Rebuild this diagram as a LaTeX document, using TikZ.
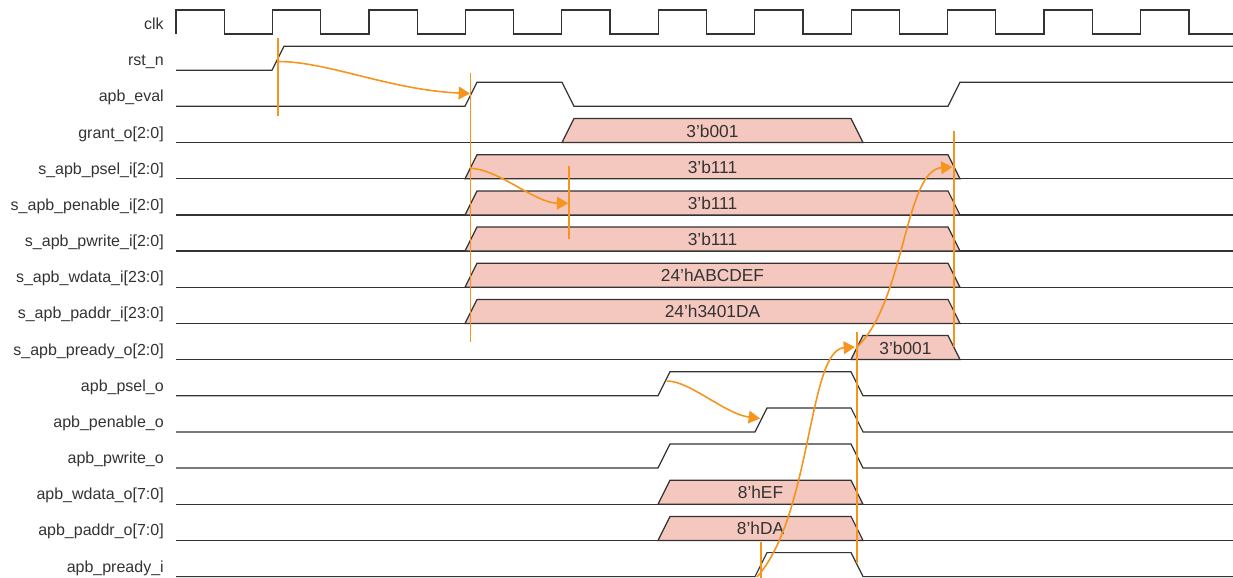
\documentclass[tikz,border=0pt]{standalone}
\usepackage{fontspec}
\setmainfont{Liberation Sans}
\usetikzlibrary{arrows.meta,calc}
\definecolor{wavecol}{RGB}{51,51,51}
\definecolor{buspink}{RGB}{244,199,191}
\definecolor{annor}{RGB}{247,148,30}
\tikzset{
  wave/.style={draw=wavecol, line width=0.9pt, line join=miter},
  busshape/.style={fill=buspink, draw=wavecol, line width=0.9pt},
  lbl/.style={anchor=base east, inner sep=0pt, font=\fontsize{12}{14}\selectfont, text=wavecol},
  val/.style={anchor=base, inner sep=0pt, font=\fontsize{13}{15}\selectfont, text=wavecol},
  ann/.style={draw=annor, line width=1.2pt},
  annbar/.style={fill=annor, draw=none},
  annarrow/.style={ann, -{Triangle[length=8.5pt,width=9.5pt]}},
}
\newcommand\rowlabel[3]{\node[lbl] (#1) at (164,{#2-4.5}) {#3};}
\newcommand\buswave[5]{%
  \draw[wave] (176,#1) -- (1233,#1);
  \filldraw[busshape] (#2,#1) -- ++(12,-24) -- (#3,{#1-24}) -- ++(12,24) -- cycle;
  \node[val] (#4) at ({(#2+12+#3)/2},{#1-5.5}) {#5};}
\newcommand\pulsewave[3]{%
  \draw[wave] (176,#1) -- (#2,#1) -- ++(12,-24) -- (#3,{#1-24}) -- ++(12,24) -- (1233,#1);}
\newcommand\markbar[2]{\fill[annbar] ($(#1)+(-0.8,0)$) rectangle ($(#2)+(0.8,0)$);}
\begin{document}
\begin{tikzpicture}[x=0.75pt,y=-0.75pt]
\useasboundingbox (0,0) rectangle (1233,578);
% labels
\rowlabel{Lclk}{34}{clk}
\rowlabel{Lrst}{70.2}{rst\_n}
\rowlabel{Leval}{106.3}{apb\_eval}
\rowlabel{Lgrant}{142.5}{grant\_o[2:0]}
\rowlabel{Lpsel}{178.7}{s\_apb\_psel\_i[2:0]}
\rowlabel{Lpen}{214.9}{s\_apb\_penable\_i[2:0]}
\rowlabel{Lpwr}{251}{s\_apb\_pwrite\_i[2:0]}
\rowlabel{Lwd}{287.2}{s\_apb\_wdata\_i[23:0]}
\rowlabel{Lpa}{323.4}{s\_apb\_paddr\_i[23:0]}
\rowlabel{Lrdy}{359.5}{s\_apb\_pready\_o[2:0]}
\rowlabel{Lopsel}{395.7}{apb\_psel\_o}
\rowlabel{Lopen}{431.9}{apb\_penable\_o}
\rowlabel{Lopwr}{468}{apb\_pwrite\_o}
\rowlabel{Lowd}{504.2}{apb\_wdata\_o[7:0]}
\rowlabel{Lopa}{540.4}{apb\_paddr\_o[7:0]}
\rowlabel{Lirdy}{576.6}{apb\_pready\_i}
% clock
\draw[wave] (176,34) -- (176,10)
  \foreach \k in {0,...,9} { -- ({224.2+96.45*\k},10) -- ({224.2+96.45*\k},34) -- ({272.45+96.45*\k},34) -- ({272.45+96.45*\k},10) }
  -- (1189,10) -- (1189,34) -- (1233,34);
% rst_n
\draw[wave] (176,70.2) -- (272,70.2) -- ++(12,-24) -- (1233,46.2);
% apb_eval
\draw[wave] (176,106.3) -- (465,106.3) -- ++(12,-24) -- (562,82.3) -- ++(12,24) -- (948,106.3) -- ++(12,-24) -- (1233,82.3);
% buses
\buswave{142.5}{562}{851}{Vgrant}{3’b001}
\buswave{178.7}{465}{948}{Vpsel}{3’b111}
\buswave{214.9}{465}{948}{Vpen}{3’b111}
\buswave{251}{465}{948}{Vpwr}{3’b111}
\buswave{287.2}{465}{948}{Vwd}{24’hABCDEF}
\buswave{323.4}{465}{948}{Vpa}{24’h3401DA}
\buswave{359.5}{851}{948}{Vrdy}{3’b001}
\pulsewave{395.7}{658}{851}
\pulsewave{431.9}{755}{851}
\pulsewave{468}{658}{851}
\buswave{504.2}{658}{851}{Vowd}{8’hEF}
\buswave{540.4}{658}{851}{Vopa}{8’hDA}
\pulsewave{576.6}{755}{851}
% annotation coordinates
\coordinate (rstA) at (277.7,38);
\coordinate (rstB) at (277.7,116);
\coordinate (rstE) at (278,61.5);
\coordinate (evalE) at (470,93.5);
\coordinate (evT) at (470.3,73);
\coordinate (evB) at (470.3,342);
\coordinate (pselE) at (471,168.3);
\coordinate (penE) at (568.3,203.3);
\coordinate (penT) at (569,166);
\coordinate (penB) at (569,239);
\coordinate (endT) at (953.9,131);
\coordinate (endB) at (953.9,347);
\coordinate (opselE) at (667,381);
\coordinate (openE) at (760,418.5);
\coordinate (rdyT) at (856.7,332);
\coordinate (rdyB) at (856.7,563);
\coordinate (irdyT) at (760.7,542);
\coordinate (irdyB) at (760.7,578);
\coordinate (irdyE) at (757,577);
\coordinate (ordyE) at (855,347);
\coordinate (ordyS) at (858,346);
\coordinate (pselF) at (952.5,167);
% annotations
\markbar{rstA}{rstB}
\markbar{evT}{evB}
\markbar{penT}{penB}
\markbar{endT}{endB}
\markbar{rdyT}{rdyB}
\markbar{irdyT}{irdyB}
\draw[annarrow] (rstE) .. controls (328,61.5) and (390,90) .. (evalE);
\draw[annarrow] (pselE) .. controls (500,170) and (535,203) .. (penE);
\draw[annarrow] (opselE) .. controls (690,381) and (725,414) .. (openE);
\draw[annarrow] (irdyE) .. controls (812,515) and (808,350) .. (ordyE);
\draw[annarrow] (ordyS) .. controls (905,300) and (905,170) .. (pselF);
\end{tikzpicture}
\end{document}
